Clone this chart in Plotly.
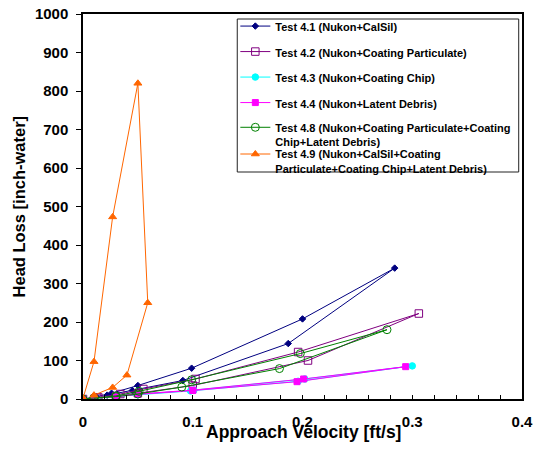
import plotly.graph_objects as go

# ---- data ----
v41 = [0.0, 0.012, 0.026, 0.050, 0.099, 0.200, 0.284, 0.187, 0.091, 0.045, 0.022]
h41 = [0, 6, 15, 35, 80, 208, 340, 144, 48, 22, 10]

v42 = [0.0, 0.014, 0.034, 0.055, 0.1025, 0.196, 0.306, 0.205, 0.100, 0.050, 0.030, 0.013]
h42 = [0, 4, 13, 26, 52, 122, 222, 100, 35, 15, 7, 3]

v43 = [0.0, 0.010, 0.030, 0.050, 0.101, 0.202, 0.300, 0.196, 0.098, 0.050, 0.030, 0.010]
h43 = [0, 2, 7, 12, 23, 52, 86, 46, 21, 11, 6, 2]

v44 = [0.0, 0.010, 0.030, 0.050, 0.100, 0.201, 0.294, 0.195, 0.100, 0.050, 0.030, 0.010]
h44 = [0, 3, 7, 13, 23, 52, 84, 45, 22, 12, 6, 3]

v48 = [0.0, 0.010, 0.030, 0.051, 0.099, 0.198, 0.277, 0.179, 0.090, 0.050, 0.030, 0.010]
h48 = [0, 3, 8, 20, 50, 118, 180, 79, 31, 13, 6, 2]

v49 = [0.0, 0.010, 0.027, 0.050, 0.059, 0.040, 0.027, 0.010]
h49 = [2, 97, 473, 820, 250, 62, 30, 10]

names = [
    "Test 4.1 (Nukon+CalSil)",
    "Test 4.2 (Nukon+Coating Particulate)",
    "Test 4.3 (Nukon+Coating Chip)",
    "Test 4.4 (Nukon+Latent Debris)",
    "Test 4.8 (Nukon+Coating Particulate+Coating<br>Chip+Latent Debris)",
    "Test 4.9 (Nukon+CalSil+Coating<br>Particulate+Coating Chip+Latent Debris)",
]

x_ticks = [0, 0.1, 0.2, 0.3, 0.4]
y_ticks = [0, 100, 200, 300, 400, 500, 600, 700, 800, 900, 1000]

FONT = "Arial, Liberation Sans, sans-serif"

series = [
    (v41, h41, names[0], "#000080", "diamond", 5, "legend"),
    (v42, h42, names[1], "#800080", "square-open", 7.5, "legend"),
    (v43, h43, names[2], "#00FFFF", "circle", 6.5, "legend"),
    (v44, h44, names[3], "#FF00FF", "square", 6, "legend"),
    (v48, h48, names[4], "#008000", "circle-open", 8, "legend2"),
    (v49, h49, names[5], "#FF6600", "triangle-up", 7, "legend3"),
]

fig = go.Figure()
for i, (xs, ys, nm, col, sym, sz, lg) in enumerate(series):
    fig.add_trace(go.Scatter(
        x=xs, y=ys, name=nm, mode="lines+markers",
        line=dict(color=col, width=1),
        marker=dict(symbol=sym, size=sz, color=col, line=dict(color=col, width=1)),
        legend=lg, legendgroup="g%d" % i,
    ))

legend_common = dict(
    font=dict(family=FONT, size=11, color="black", weight="bold"),
    bgcolor="rgba(0,0,0,0)", borderwidth=0, xanchor="left", yanchor="top",
    valign="top", itemclick=False,
)

fig.update_layout(
    width=533, height=453, autosize=False,
    margin=dict(l=83, r=11, t=14, b=54, autoexpand=False),
    paper_bgcolor="white", plot_bgcolor="white",
    font=dict(family=FONT, color="black"),
    legend=dict(x=0.3470, y=1.0041, tracegroupgap=6.5, **legend_common),
    legend2=dict(x=0.3470, y=0.7412, **legend_common),
    legend3=dict(x=0.3470, y=0.6718, **legend_common),
    xaxis=dict(
        range=[0, 0.4], tickvals=x_ticks, ticktext=[("%g" % t) for t in x_ticks],
        showgrid=False, zeroline=False, showline=True, linecolor="black", linewidth=1.5,
        mirror=True, ticks="inside", ticklen=4, tickcolor="black",
        minor=dict(dtick=0.02, ticks="inside", ticklen=4, tickcolor="black", showgrid=False),
        tickfont=dict(family=FONT, size=15, color="black", weight="bold"),
        ticklabelstandoff=8, ticklabeloverflow="allow",
    ),
    yaxis=dict(
        range=[0, 1000], tickvals=y_ticks,
        showgrid=False, zeroline=False, showline=True, linecolor="black", linewidth=1.5,
        mirror=True, ticks="outside", ticklen=5, tickcolor="black",
        tickfont=dict(family=FONT, size=15, color="black", weight="bold"),
        ticklabelstandoff=5, ticklabeloverflow="allow",
    ),
    shapes=[dict(
        type="rect", xref="paper", yref="paper",
        x0=0.3514, x1=0.9925, y0=0.5896, y1=0.987,
        line=dict(color="#222222", width=1), fillcolor="rgba(0,0,0,0)", layer="above",
    )],
    annotations=[
        dict(text="Approach Velocity [ft/s]", xref="paper", yref="paper",
             x=0.5014, y=-0.0865, xanchor="center", yanchor="middle", showarrow=False,
             font=dict(family=FONT, size=17.5, color="black", weight="bold")),
        dict(text="Head Loss [inch-water]", xref="paper", yref="paper",
             x=-0.1463, y=0.4995, xanchor="center", yanchor="middle", showarrow=False,
             textangle=-90,
             font=dict(family=FONT, size=16.5, color="black", weight="bold")),
    ],
)

fig.write_html("out.html", config={"displayModeBar": False},
               post_script="document.body.style.margin='0';")
